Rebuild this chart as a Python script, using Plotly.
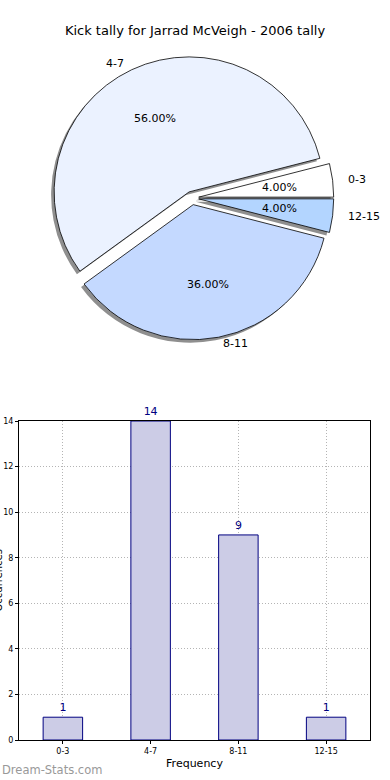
import math
import plotly.graph_objects as go

# ---- data ----
categories = ["0-3", "4-7", "8-11", "12-15"]
counts = [1, 14, 9, 1]
pie_colors = ["#ffffff", "#ebf2ff", "#c4d9ff", "#b3d5ff"]
y_ticks = [0, 2, 4, 6, 8, 10, 12, 14]

title_text = "Kick tally for Jarrad McVeigh - 2006 tally"

# ---- layout geometry ----
W, H = 390, 780
ML, MR, MT, MB = 19, 20, 0, 40
PW, PH = W - ML - MR, H - MT - MB
PULL = 0.05
PIE_CX, PIE_CY, PIE_R = 192, 198, 135          # pixels
half = PIE_R * (1 + PULL)
pie_dom_x = [(PIE_CX - half - ML) / PW, (PIE_CX + half - ML) / PW]
pie_dom_y = [1 - (PIE_CY + half - MT) / PH, 1 - (PIE_CY - half - MT) / PH]
shadow_dx, shadow_dy = -3 / PW, -3 / PH

FONT = "DejaVu Sans"
total = sum(counts)
start_rot = 90 - 360 * counts[0] / total  # first slice starts at 3 o'clock

fig = go.Figure()

# shadow pie
fig.add_trace(go.Pie(
    values=counts, labels=categories, sort=False, direction="counterclockwise",
    rotation=start_rot, pull=[PULL] * len(counts),
    marker=dict(colors=["#8f8f8f"] * len(counts), line=dict(width=0)),
    textinfo="none", hoverinfo="skip", showlegend=False,
    domain=dict(x=[pie_dom_x[0] + shadow_dx, pie_dom_x[1] + shadow_dx],
                y=[pie_dom_y[0] + shadow_dy, pie_dom_y[1] + shadow_dy]),
))

# main pie
fig.add_trace(go.Pie(
    values=counts, labels=categories, sort=False, direction="counterclockwise",
    rotation=start_rot, pull=[PULL] * len(counts),
    marker=dict(colors=pie_colors, line=dict(color="black", width=0.8)),
    textinfo="none", showlegend=False,
    domain=dict(x=pie_dom_x, y=pie_dom_y),
))

# pie labels computed from data (matplotlib-style)
box_w = (pie_dom_x[1] - pie_dom_x[0]) * PW
box_h = (pie_dom_y[1] - pie_dom_y[0]) * PH
r = min(box_w, box_h) / (2 + 2 * PULL)
cx = ML + PW * (pie_dom_x[0] + pie_dom_x[1]) / 2
cy = MT + PH * (1 - (pie_dom_y[0] + pie_dom_y[1]) / 2)
ang = 0.0
annotations = []
for cat, v in zip(categories, counts):
    frac = v / total
    mid = math.radians((ang + frac * 360 / 2))
    ang += frac * 360
    ox = cx + PULL * r * math.cos(mid)
    oy = cy - PULL * r * math.sin(mid)
    lx = ox + 1.1 * r * math.cos(mid)
    ly = oy - 1.05 * r * math.sin(mid)
    px = ox + 0.6 * r * math.cos(mid)
    py = oy - 0.6 * r * math.sin(mid)
    annotations.append(dict(
        x=(lx - ML) / PW, y=1 - (ly - MT) / PH, xref="paper", yref="paper",
        text=cat, showarrow=False, xanchor="left" if math.cos(mid) > 0 else "right",
        yanchor="middle", font=dict(family=FONT, size=11, color="black")))
    annotations.append(dict(
        x=(px - ML) / PW, y=1 - (py - MT) / PH, xref="paper", yref="paper",
        text=f"{frac * 100:.2f}%", showarrow=False, xanchor="center",
        yanchor="middle", font=dict(family=FONT, size=11, color="black")))

# bar chart
fig.add_trace(go.Bar(
    x=categories, y=counts, width=0.45,
    marker=dict(color="#ccccE6", line=dict(color="#000080", width=1)),
    text=[str(c) for c in counts], textposition="outside", cliponaxis=False,
    textfont=dict(family=FONT, size=11, color="#000080"),
    xaxis="x", yaxis="y", showlegend=False,
))

bar_top_frac = (H - MB - 421) / PH
GRID = dict(showgrid=True, gridcolor="#b4b4b4", griddash="1px,2px", gridwidth=1)

fig.update_layout(
    width=W, height=H,
    margin=dict(l=ML, r=MR, t=MT, b=MB),
    paper_bgcolor="white", plot_bgcolor="white",
    font=dict(family=FONT, color="black"),
    title=dict(text=title_text, x=0.5, xanchor="center", y=1 - 30 / H, yanchor="middle",
               font=dict(family=FONT, size=13, color="black")),
    xaxis=dict(domain=[0, 1], range=[-0.5, 3.5], anchor="y", automargin=False,
               showline=True, linecolor="black", linewidth=1, mirror=True,
               ticks="outside", ticklen=3, tickcolor="black",
               tickfont=dict(family=FONT, size=8, color="black"),
               title=dict(text="Frequency", font=dict(family=FONT, size=11, color="black"),
                          standoff=4), **GRID),
    yaxis=dict(domain=[0, bar_top_frac], range=[0, 14], anchor="x", automargin=False,
               tickvals=y_ticks,
               showline=True, linecolor="black", linewidth=1, mirror=True,
               zeroline=False, ticks="outside", ticklen=3, tickcolor="black",
               tickfont=dict(family=FONT, size=8, color="black"), **GRID),
    annotations=annotations + [
        dict(text="Occurrences", textangle=-90, x=(-2 - ML) / PW, y=bar_top_frac / 2,
             xref="paper", yref="paper", showarrow=False, xanchor="center",
             yanchor="middle", font=dict(family=FONT, size=10, color="black")),
        dict(text="Dream-Stats.com", x=-ML / PW, y=-30 / PH, xref="paper", yref="paper",
             showarrow=False, xanchor="left", yanchor="middle",
             font=dict(family=FONT, size=11.5, color="#999999")),
    ],
)

fig.write_html("out.html", config={"displayModeBar": False},
               post_script="document.body.style.margin='0';")
